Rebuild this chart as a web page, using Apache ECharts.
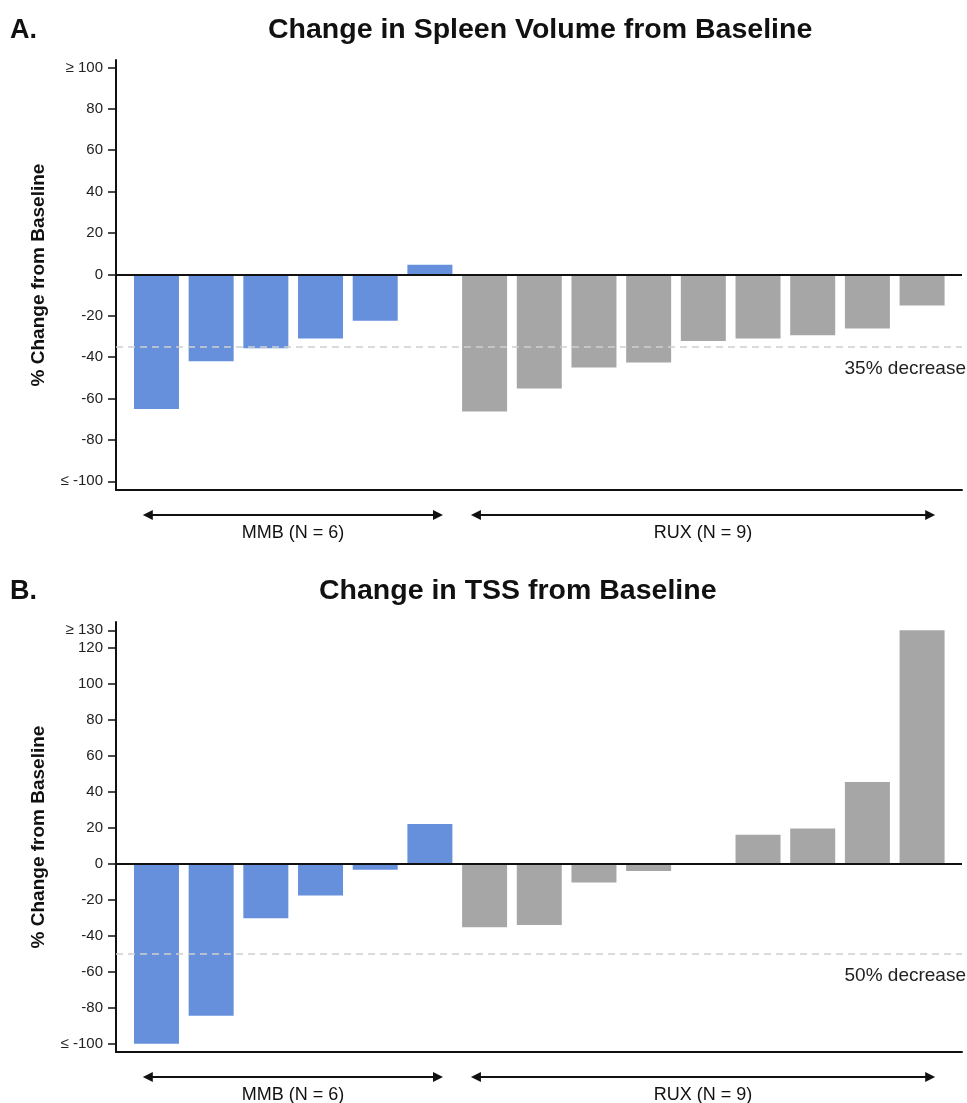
<!DOCTYPE html>
<html>
<head>
<meta charset="utf-8">
<title>Change from Baseline</title>
<script src="https://cdn.jsdelivr.net/npm/echarts@6/dist/echarts.min.js"></script>
<style>
  html, body { margin: 0; padding: 0; background: #fff; }
  #chart { width: 967px; height: 1103px; }
</style>
</head>
<body>
<div id="chart"></div>
<script>
// panel A: spleen volume, % change from baseline
const spleenMMB = [-65, -42, -35.7, -31, -22.4, 4.6];
const spleenRUX = [-66.3, -55.2, -45, -42.6, -32.2, -31, -29.4, -26.1, -15];
const spleenTicks = [-100, -80, -60, -40, -20, 0, 20, 40, 60, 80, 100];
const spleenCut = -35;

// panel B: total symptom score, % change from baseline
const tssMMB = [-100, -84.5, -30.2, -17.5, -3.2, 22.3];
const tssRUX = [-35.2, -33.9, -10.3, -3.9, 0, 16.3, 19.7, 45.6, 130];
const tssTicks = [-100, -80, -60, -40, -20, 0, 20, 40, 60, 80, 100, 120, 130];
const tssCut = -50;

const groups = ['MMB (N = 6)', 'RUX (N = 9)'];

const BLUE = '#6690dc';
const GREY = '#a6a6a6';
const FONT = 'Liberation Sans, Arial, Helvetica, sans-serif';

const chart = echarts.init(document.getElementById('chart'));

// patients sit at x = 0..14, MMB first then RUX
const toPoints = (vals, start) => vals.map((v, i) => [start + i, v]);

function yAxisFor(gridIndex, ticks, min, max) {
  const lo = ticks[0], hi = ticks[ticks.length - 1];
  return {
    type: 'value',
    gridIndex,
    min,
    max,
    name: '% Change from Baseline',
    nameLocation: 'middle',
    nameGap: 68,
    nameTextStyle: { fontFamily: FONT, fontSize: 19, fontWeight: 'bold', color: '#111' },
    axisLine: { show: true, onZero: false, lineStyle: { color: '#111', width: 2 } },
    axisTick: { show: true, length: 8, customValues: ticks, lineStyle: { color: '#111', width: 1.5 } },
    axisLabel: {
      customValues: ticks,
      margin: 13,
      fontFamily: FONT,
      fontSize: 15,
      color: '#222',
      formatter: v => v === hi ? '\u2265 ' + v : v === lo ? '\u2264 ' + v : String(v)
    },
    splitLine: { show: false }
  };
}

function xAxisFor(gridIndex) {
  return {
    type: 'value',
    gridIndex,
    min: -0.74,
    max: 14.73,
    axisLine: { show: true, onZero: false, lineStyle: { color: '#111', width: 2 } },
    axisTick: { show: false },
    axisLabel: { show: false },
    splitLine: { show: false }
  };
}

function refLines(cut, text) {
  return {
    silent: true,
    symbol: 'none',
    data: [
      { yAxis: 0, lineStyle: { color: '#111', width: 2, type: 'solid' }, label: { show: false } },
      {
        yAxis: cut,
        lineStyle: { color: '#cfcfcf', width: 1.5, type: [7, 5] },
        label: {
          show: true,
          formatter: text,
          position: 'insideEndBottom',
          distance: [-4, 12],
          fontFamily: FONT,
          fontSize: 19,
          color: '#222'
        }
      }
    ]
  };
}

function barSeries(idx, vals, start, color, withLines) {
  const s = {
    type: 'bar',
    xAxisIndex: idx,
    yAxisIndex: idx,
    barWidth: 45,
    barGap: '-100%',
    itemStyle: { color },
    data: toPoints(vals, start),
    animation: false
  };
  if (withLines) s.markLine = withLines;
  return s;
}

const headStyle = { fontFamily: FONT, fontWeight: 'bold', color: '#111' };

const option = {
  animation: false,
  title: [
    { text: 'A.', left: 10, top: 17, padding: 0, textStyle: { ...headStyle, fontSize: 27 } },
    { text: 'Change in Spleen Volume from Baseline', left: 268, top: 16, padding: 0, textStyle: { ...headStyle, fontSize: 28.5 } },
    { text: 'B.', left: 10, top: 578, padding: 0, textStyle: { ...headStyle, fontSize: 27 } },
    { text: 'Change in TSS from Baseline', left: 319, top: 577, padding: 0, textStyle: { ...headStyle, fontSize: 28.5 } }
  ],
  grid: [
    { left: 116, right: 5, top: 60, height: 430 },
    { left: 116, right: 5, top: 622, height: 430 }
  ],
  xAxis: [xAxisFor(0), xAxisFor(1)],
  yAxis: [
    yAxisFor(0, spleenTicks, -104.2, 103.6),
    yAxisFor(1, tssTicks, -104.6, 134.6)
  ],
  series: [
    barSeries(0, spleenMMB, 0, BLUE, refLines(spleenCut, '35% decrease')),
    barSeries(0, spleenRUX, spleenMMB.length, GREY),
    barSeries(1, tssMMB, 0, BLUE, refLines(tssCut, '50% decrease')),
    barSeries(1, tssRUX, tssMMB.length, GREY)
  ]
};

chart.setOption(option);

// group arrows under each panel, placed through the x scale
function arrow(idx, from, to, y, label, labelY) {
  const x1 = chart.convertToPixel({ xAxisIndex: idx }, from);
  const x2 = chart.convertToPixel({ xAxisIndex: idx }, to);
  const st = { stroke: '#111', lineWidth: 1.8 };
  return [
    { type: 'line', shape: { x1: x1 + 4, y1: y, x2: x2 - 4, y2: y }, style: st, silent: true },
    { type: 'polygon', shape: { points: [[x1, y], [x1 + 10, y - 5], [x1 + 10, y + 5]] }, style: { fill: '#111' }, silent: true },
    { type: 'polygon', shape: { points: [[x2, y], [x2 - 10, y - 5], [x2 - 10, y + 5]] }, style: { fill: '#111' }, silent: true },
    {
      type: 'text',
      x: (x1 + x2) / 2,
      y: labelY,
      style: { text: label, align: 'center', verticalAlign: 'middle', fontFamily: FONT, fontSize: 18, fill: '#111' },
      silent: true
    }
  ];
}

const nM = spleenMMB.length, nR = spleenRUX.length;
chart.setOption({
  graphic: [
    ...arrow(0, -0.25, nM - 1 + 0.24, 515, groups[0], 533),
    ...arrow(0, nM - 0.25, nM + nR - 1 + 0.24, 515, groups[1], 533),
    ...arrow(1, -0.25, nM - 1 + 0.24, 1077, groups[0], 1095),
    ...arrow(1, nM - 0.25, nM + nR - 1 + 0.24, 1077, groups[1], 1095)
  ]
});
</script>
</body>
</html>
